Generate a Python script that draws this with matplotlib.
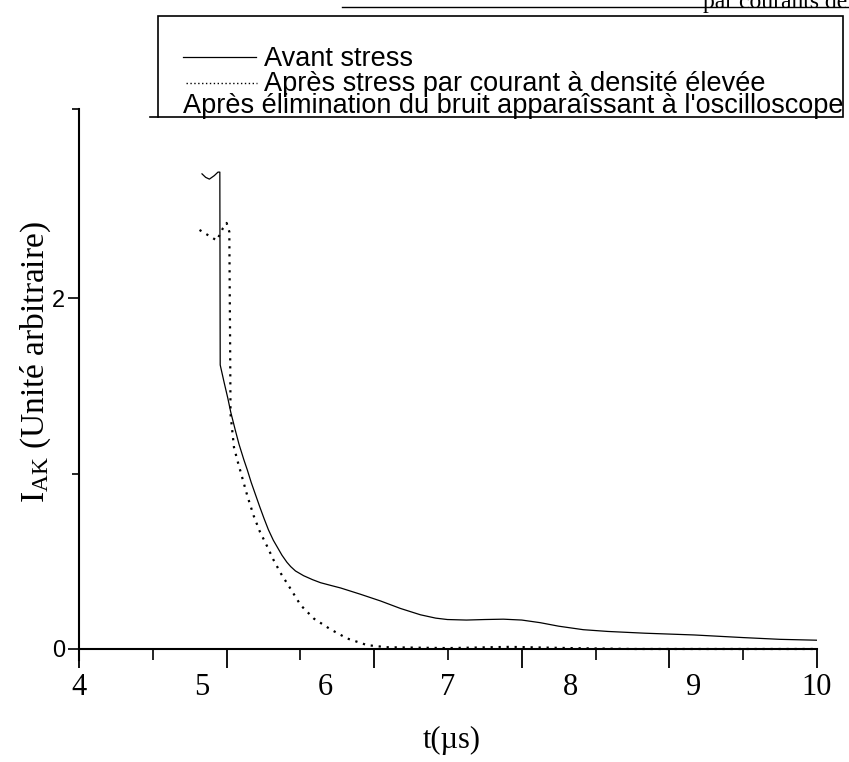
import numpy as np
import matplotlib
matplotlib.use('Agg')
import matplotlib.pyplot as plt
from matplotlib import font_manager
from matplotlib.lines import Line2D
from matplotlib.patches import Rectangle

# ---------------- data ----------------
t_avant = [5.00, 5.03, 5.06, 5.10, 5.13, 5.145, 5.148, 5.18, 5.21, 5.234,
           5.27, 5.30, 5.34, 5.369, 5.40, 5.44, 5.47, 5.504, 5.54, 5.58,
           5.613, 5.65, 5.69, 5.721, 5.76, 5.826, 5.90, 5.964, 6.05, 6.127,
           6.289, 6.451, 6.614, 6.776, 6.90, 6.995, 7.15, 7.30, 7.45, 7.60,
           7.75, 7.90, 8.10, 8.30, 8.60, 9.00, 9.40, 9.70, 10.0]
i_avant = [2.71, 2.69, 2.68, 2.70, 2.72, 2.72, 1.62, 1.52, 1.43, 1.35,
           1.25, 1.17, 1.08, 1.02, 0.95, 0.87, 0.81, 0.745, 0.68, 0.62,
           0.58, 0.535, 0.495, 0.47, 0.445, 0.418, 0.395, 0.378, 0.362, 0.348,
           0.312, 0.274, 0.231, 0.195, 0.176, 0.168, 0.165, 0.168, 0.170, 0.165,
           0.150, 0.130, 0.110, 0.100, 0.090, 0.080, 0.065, 0.055, 0.050]

t_apres = [4.98, 5.05, 5.12, 5.17, 5.20, 5.222, 5.228, 5.232, 5.26, 5.29,
           5.33, 5.37, 5.42, 5.47, 5.53, 5.58, 5.64, 5.721, 5.802, 5.91,
           6.045, 6.18, 6.343, 6.50, 7.00, 7.50, 8.00, 8.50, 9.00, 9.50, 10.0]
i_apres = [2.39, 2.36, 2.33, 2.40, 2.43, 2.38, 1.80, 1.34, 1.15, 1.07,
           0.97, 0.87, 0.76, 0.67, 0.585, 0.51, 0.432, 0.342, 0.250, 0.173,
           0.112, 0.060, 0.022, 0.010, 0.005, 0.012, 0.005, 0.0, 0.0, 0.0, 0.0]

x_tick_values = [4, 5, 6, 7, 8, 9, 10]
x_tick_labels = ['4', '5', '6', '7', '8', '9', '10']
y_tick_values = [0, 2]
y_tick_labels = ['0', '2']
legend_labels = ['Avant stress',
                 'Après stress par courant à densité élevée',
                 "Après élimination du bruit apparaîssant à l'oscilloscope"]
x_label = 't(µs)'
y_label = r'I$_{\mathrm{AK}}$ (Unité arbitraire)'
top_caption = 'par courants de'

# ---------------- fonts ----------------
plt.rcParams['mathtext.fontset'] = 'custom'
plt.rcParams['mathtext.rm'] = 'Liberation Serif'
plt.rcParams['mathtext.it'] = 'Liberation Serif:italic'
plt.rcParams['mathtext.bf'] = 'Liberation Serif:bold'
names = {f.name for f in font_manager.fontManager.ttflist}
leg_font = 'Liberation Sans Narrow' if 'Liberation Sans Narrow' in names else 'Liberation Sans'
serif = 'Liberation Serif'

# ---------------- figure ----------------
W, H = 849, 762
fig = plt.figure(figsize=(W / 100, H / 100), dpi=100)


def fx(p):
    return p / W


def fy(p):
    return 1 - p / H


ymin, ymax = -0.06, 3.08
x0, x1 = 79, 817
ytop, ybot = 109, 659.5
ax = fig.add_axes([fx(x0), fy(ybot), (x1 - x0) / W, (ybot - ytop) / H])

ax.plot(t_avant, i_avant, color='black', lw=0.9)
ax.plot(t_apres, i_apres, color='black', lw=1.6, linestyle=(0, (1, 2.6)))

ax.set_xlim(4, 10)
ax.set_ylim(ymin, ymax)
for s in ['top', 'right']:
    ax.spines[s].set_visible(False)
ax.spines['bottom'].set_position(('data', 0))
ax.spines['left'].set_linewidth(1.5)
ax.spines['bottom'].set_linewidth(1.5)

# x ticks: long and short marks, labels on a secondary axis
marks = np.linspace(4, 10, 11)
ax.set_xticks(marks[::2])
ax.set_xticklabels([''] * len(marks[::2]))
ax.set_xticks(marks[1::2], minor=True)
ax.tick_params(axis='x', which='major', direction='out', length=14, width=1.3)
ax.tick_params(axis='x', which='minor', direction='out', length=8, width=1.2)

sec = ax.secondary_xaxis((0 - ymin) / (ymax - ymin))
sec.set_xticks(x_tick_values)
sec.set_xticklabels(x_tick_labels, fontfamily=serif, fontsize=22)
sec.tick_params(axis='x', length=0, pad=17)
sec.spines['bottom'].set_visible(False)

# y ticks
ax.set_yticks(y_tick_values)
ax.set_yticklabels(y_tick_labels, fontfamily='Liberation Sans', fontsize=17)
ax.set_yticks([1, ymax], minor=True)
ax.tick_params(axis='y', which='major', direction='out', length=8, width=1.2, pad=2)
ax.tick_params(axis='y', which='minor', direction='out', length=5, width=1.2)

# axis labels
fig.text(fx(36), fy(362), y_label, rotation=90, ha='center', va='center',
         fontfamily=serif, fontsize=24)
fig.text(fx(452), fy(740), x_label, ha='center', va='center',
         fontfamily=serif, fontsize=22)

# caption fragment at top
fig.text(fx(703), fy(8), top_caption, ha='left', va='baseline',
         fontfamily=serif, fontsize=17)
fig.add_artist(Line2D([fx(342), fx(849)], [fy(7), fy(7)], color='black', lw=1.0,
                      transform=fig.transFigure))

# legend box
fig.add_artist(Rectangle((fx(158), fy(117)), (843 - 158) / W, (117 - 15.6) / H,
                         transform=fig.transFigure, fill=False, lw=1.2, ec='black'))
fig.add_artist(Line2D([fx(150), fx(158)], [fy(117), fy(117)], color='black', lw=1.2,
                      transform=fig.transFigure))
fig.add_artist(Line2D([fx(183), fx(256)], [fy(57), fy(57)], color='black', lw=0.9,
                      transform=fig.transFigure))
fig.add_artist(Line2D([fx(186), fx(257)], [fy(83), fy(83)], color='black', lw=1.0,
                      linestyle=(0, (1, 1.8)), transform=fig.transFigure))

t1 = fig.text(fx(264), fy(66), legend_labels[0], ha='left', va='baseline',
              fontfamily=leg_font, fontsize=22)
t2 = fig.text(fx(264), fy(91), legend_labels[1], ha='left', va='baseline',
              fontfamily=leg_font, fontsize=22)
t3 = fig.text(fx(183), fy(113), legend_labels[2], ha='left', va='baseline',
              fontfamily=leg_font, fontsize=22)

renderer = fig.canvas.get_renderer()
w3 = t3.get_window_extent(renderer).width
size = 22 * 656.0 / w3
for t in (t1, t2, t3):
    t.set_fontsize(size)

fig.savefig('out.png', dpi=100)
